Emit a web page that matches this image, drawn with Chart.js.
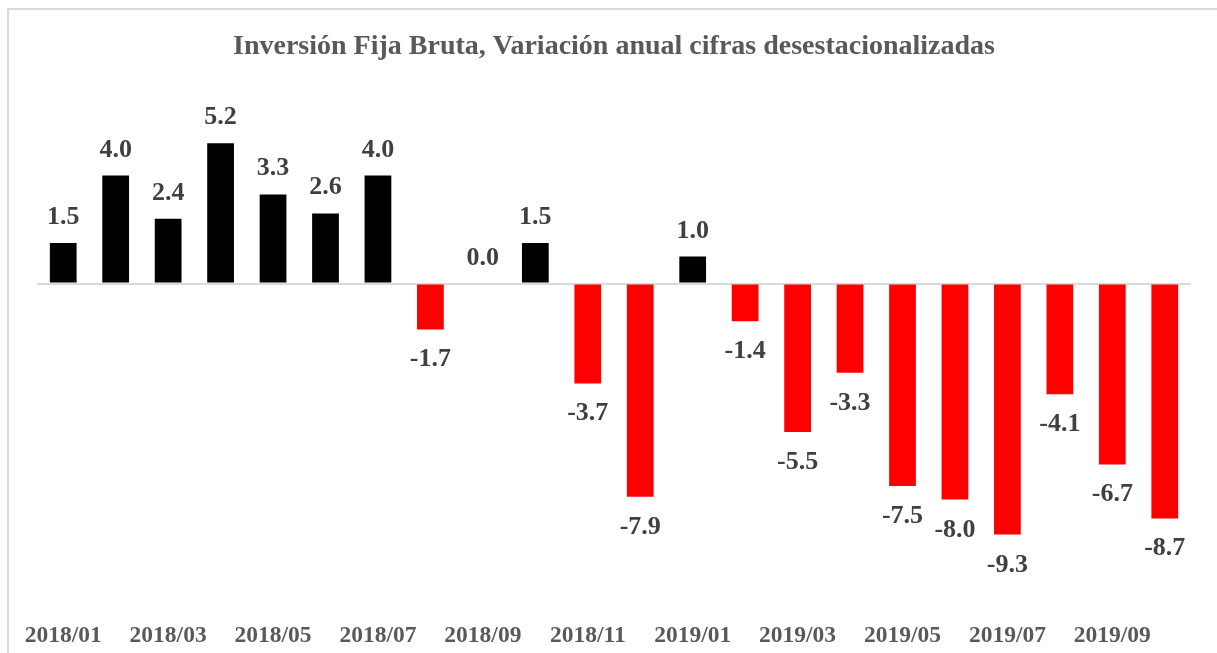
<!DOCTYPE html>
<html>
<head>
<meta charset="utf-8">
<script src="https://cdn.jsdelivr.net/npm/chart.js@4"></script>
<style>
  body { margin: 0; background: #fff; overflow: hidden; }
  #frame { position: absolute; left: 7px; top: 8px; width: 1400px; height: 900px; border: 2px solid #d9d9d9; }
  #wrap { position: absolute; left: 0; top: 0; width: 1217px; height: 653px; }
</style>
</head>
<body>
<div id="frame"></div>
<div id="wrap"><canvas id="inversion-chart"></canvas></div>
<script>
const months = ["2018/01", "2018/02", "2018/03", "2018/04", "2018/05", "2018/06", "2018/07", "2018/08", "2018/09", "2018/10", "2018/11", "2018/12",
                "2019/01", "2019/02", "2019/03", "2019/04", "2019/05", "2019/06", "2019/07", "2019/08", "2019/09", "2019/10"];
const variacion = [1.5, 4.0, 2.4, 5.2, 3.3, 2.6, 4.0, -1.7, 0.0, 1.5, -3.7, -7.9,
                   1.0, -1.4, -5.5, -3.3, -7.5, -8.0, -9.3, -4.1, -6.7, -8.7];
const titulo = "Inversión Fija Bruta, Variación anual cifras desestacionalizadas";

const serif = "'Liberation Serif', 'DejaVu Serif', serif";

// etiquetas de valor encima / debajo de cada barra
const valueLabels = {
    id: "valueLabels",
    afterDatasetsDraw(chart) {
        const ctx = chart.ctx;
        const meta = chart.getDatasetMeta(0);
        ctx.save();
        ctx.font = "bold 26px " + serif;
        ctx.fillStyle = "#404040";
        ctx.textAlign = "center";
        ctx.textBaseline = "alphabetic";
        meta.data.forEach(function(bar, i) {
            const v = variacion[i];
            if (v >= 0) {
                ctx.fillText(v.toFixed(1), bar.x, bar.y - 19);
            } else {
                ctx.fillText(v.toFixed(1), bar.x, bar.y + 37);
            }
        });
        ctx.restore();
    }
};

new Chart(document.getElementById("inversion-chart").getContext("2d"), {
    type: "bar",
    data: {
        labels: months,
        datasets: [{
            data: variacion,
            backgroundColor: variacion.map(v => v < 0 ? "#ff0000" : "#000000"),
            barPercentage: 0.51,
            categoryPercentage: 1.0
        }]
    },
    options: {
        responsive: true,
        maintainAspectRatio: false,
        animation: false,
        layout: { padding: { left: 37, right: 26, top: 0, bottom: 0 } },
        plugins: {
            legend: { display: false },
            tooltip: { enabled: false },
            title: {
                display: true,
                text: titulo,
                color: "#595959",
                font: { family: serif, size: 28, weight: "bold" },
                padding: { top: 30, bottom: 31 }
            }
        },
        scales: {
            x: {
                grid: { display: false, drawTicks: false },
                border: { display: false },
                afterFit: s => { s.height = 45.5; },
                ticks: {
                    autoSkip: false,
                    maxRotation: 0,
                    padding: 14,
                    color: "#595959",
                    font: { family: serif, size: 23.5, weight: "bold" },
                    callback: function(val, i) { return i % 2 === 0 ? months[i] : ""; }
                }
            },
            y: {
                min: -12,
                max: 7,
                border: { display: false },
                ticks: { display: false, stepSize: 1 },
                grid: {
                    drawTicks: false,
                    lineWidth: 2,
                    color: c => c.tick.value === 0 ? "#d9d9d9" : "rgba(0,0,0,0)"
                }
            }
        }
    },
    plugins: [valueLabels]
});
</script>
</body>
</html>
